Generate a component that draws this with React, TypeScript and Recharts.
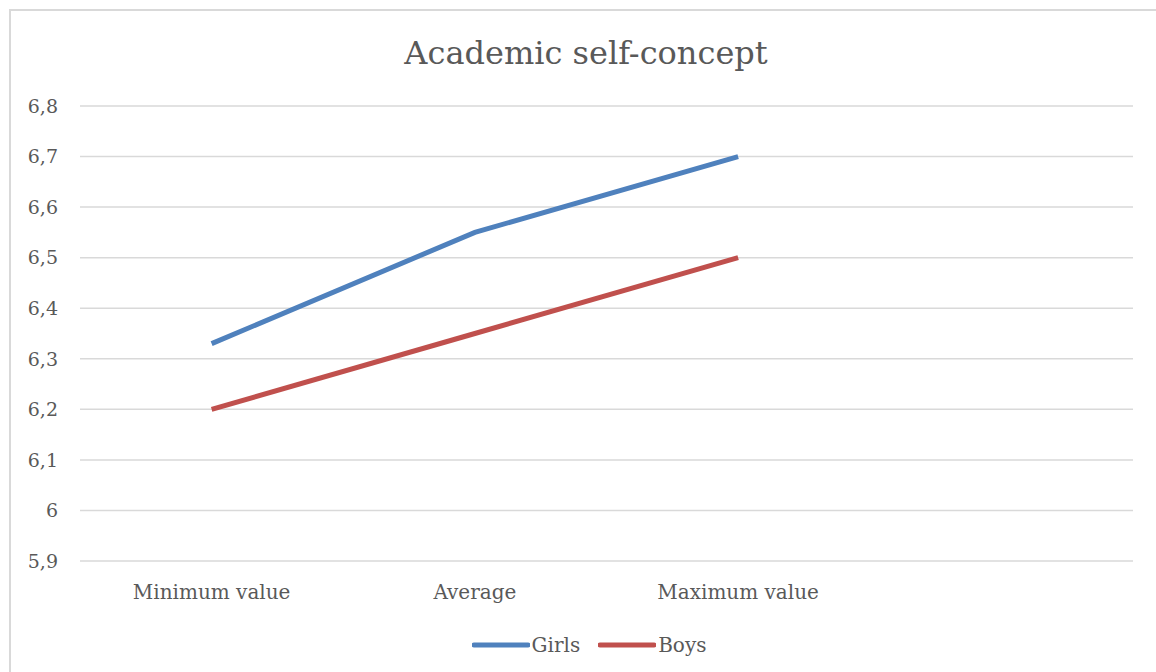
import { CartesianGrid, Line, LineChart, XAxis, YAxis } from "recharts";

const categories = ["Minimum value", "Average", "Maximum value", ""];
const girls = [6.33, 6.55, 6.7, null];
const boys = [6.2, 6.35, 6.5, null];
const yTicks = [5.9, 6.0, 6.1, 6.2, 6.3, 6.4, 6.5, 6.6, 6.7, 6.8];

const FONT = "'DejaVu Serif', serif";
const TEXT = "#595959";
const COLORS = { girls: "#4f81bd", boys: "#c0504d" };

const data = categories.map((name, i) => ({
  name,
  Girls: girls[i],
  Boys: boys[i],
}));

function fmt(v: number): string {
  return String(Math.round(v * 10) / 10).replace(".", ",");
}

function LegendItem({ color, label }: { color: string; label: string }) {
  return (
    <div style={{ display: "flex", alignItems: "center" }}>
      <svg width={58} height={10}>
        <line x1={2} y1={5} x2={56} y2={5} stroke={color} strokeWidth={5} strokeLinecap="round" />
      </svg>
      <span style={{ marginLeft: 2 }}>{label}</span>
    </div>
  );
}

export default function App() {
  return (
    <div
      style={{
        position: "absolute",
        left: 0,
        top: 0,
        width: 1156,
        height: 672,
        overflow: "hidden",
        background: "#fff",
        fontFamily: FONT,
        color: TEXT,
      }}
    >
      <div
        style={{
          position: "absolute",
          left: 9,
          top: 9,
          width: 1200,
          height: 700,
          border: "2px solid #d9d9d9",
        }}
      />
      <div
        style={{
          position: "absolute",
          left: 0,
          top: 34,
          width: 1172,
          textAlign: "center",
          fontSize: 32,
        }}
      >
        Academic self-concept
      </div>
      <div style={{ position: "absolute", left: 0, top: 0 }}>
        <LineChart
          width={1156}
          height={672}
          data={data}
          margin={{ top: 106, right: 23, bottom: 81, left: 0 }}
        >
          <CartesianGrid vertical={false} stroke="#d9d9d9" strokeWidth={1.5} />
          <XAxis
            dataKey="name"
            scale="band"
            axisLine={false}
            tickLine={false}
            tickMargin={18}
            tick={{ fontSize: 20, fill: TEXT, fontFamily: FONT }}
            interval={0}
          />
          <YAxis
            width={80}
            domain={[5.9, 6.8]}
            ticks={yTicks}
            axisLine={false}
            tickLine={false}
            tickMargin={16}
            tickFormatter={fmt}
            tick={{ fontSize: 19, fill: TEXT, fontFamily: FONT }}
          />
          <Line
            dataKey="Girls"
            stroke={COLORS.girls}
            strokeWidth={5}
            dot={false}
            isAnimationActive={false}
          />
          <Line
            dataKey="Boys"
            stroke={COLORS.boys}
            strokeWidth={5}
            dot={false}
            isAnimationActive={false}
          />
        </LineChart>
      </div>
      <div
        style={{
          position: "absolute",
          left: 0,
          top: 633,
          width: 1178,
          display: "flex",
          justifyContent: "center",
          gap: 18,
          fontSize: 20,
        }}
      >
        <LegendItem color={COLORS.girls} label="Girls" />
        <LegendItem color={COLORS.boys} label="Boys" />
      </div>
    </div>
  );
}
